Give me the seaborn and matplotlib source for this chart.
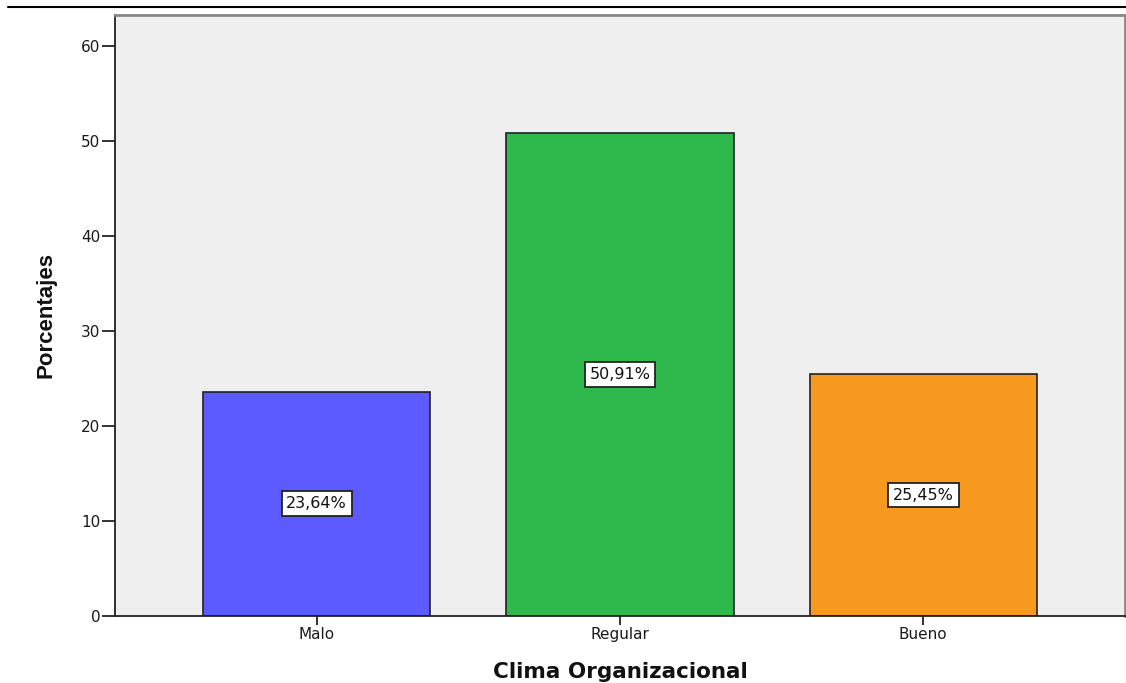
import matplotlib
matplotlib.use("Agg")
import matplotlib.pyplot as plt
import seaborn as sns
import pandas as pd

categories = ["Malo", "Regular", "Bueno"]
values = [23.64, 50.91, 25.45]
labels = ["23,64%", "50,91%", "25,45%"]
colors = ["#5b5bff", "#2fb84b", "#f7991f"]
yticks = [0, 10, 20, 30, 40, 50, 60]

sns.set_theme(style="white")
plt.rcParams['font.family'] = ['DejaVu Sans']

df = pd.DataFrame({"cat": categories, "val": values})

fig = plt.figure(figsize=(11.26, 6.83), dpi=100)
ax = fig.add_axes([115/1126, 67/683, 1010/1126, 601/683])
ax.set_facecolor("#efefef")

sns.barplot(data=df, x="cat", y="val", hue="cat", palette=colors, width=0.75,
            edgecolor="#222222", linewidth=1.2, legend=False, ax=ax, saturation=1)

ax.set_xlim(-0.665, 2.665)
ax.set_ylim(0, 63.3)
ax.set_yticks(yticks)
ax.set_yticklabels([str(t) for t in yticks], fontsize=11, color="#1a1a1a")
ax.set_xticks(range(len(categories)))
ax.set_xticklabels(categories, fontsize=11, color="#1a1a1a")
ax.tick_params(axis="x", length=6.5, width=1.3, color="#222222", bottom=True, pad=1.5)
ax.tick_params(axis="y", length=9.5, width=1.3, color="#222222", left=True, pad=1)

for s in ["left", "bottom"]:
    ax.spines[s].set_color("#222222")
    ax.spines[s].set_linewidth(1.3)
for s in ["top", "right"]:
    ax.spines[s].set_color("#888888")
    ax.spines[s].set_linewidth(2)

ax.set_xlabel("Clima Organizacional", fontsize=15.5, fontweight="bold", labelpad=14,
              color="#111111")
ax.set_ylabel("Porcentajes", fontsize=16, fontweight="bold", labelpad=18,
              family="Liberation Sans", color="#111111")

for i, (v, lab) in enumerate(zip(values, labels)):
    ax.text(i, v / 2, lab, ha="center", va="center", fontsize=11.5, color="#111111",
            bbox=dict(boxstyle="square,pad=0.3", facecolor="white", edgecolor="#222222", linewidth=1.3))

fig.add_artist(plt.Line2D([8/1126, 1], [1 - 7/683, 1 - 7/683], color="black", linewidth=1.5,
                          transform=fig.transFigure))

fig.savefig("out.png", dpi=100)
